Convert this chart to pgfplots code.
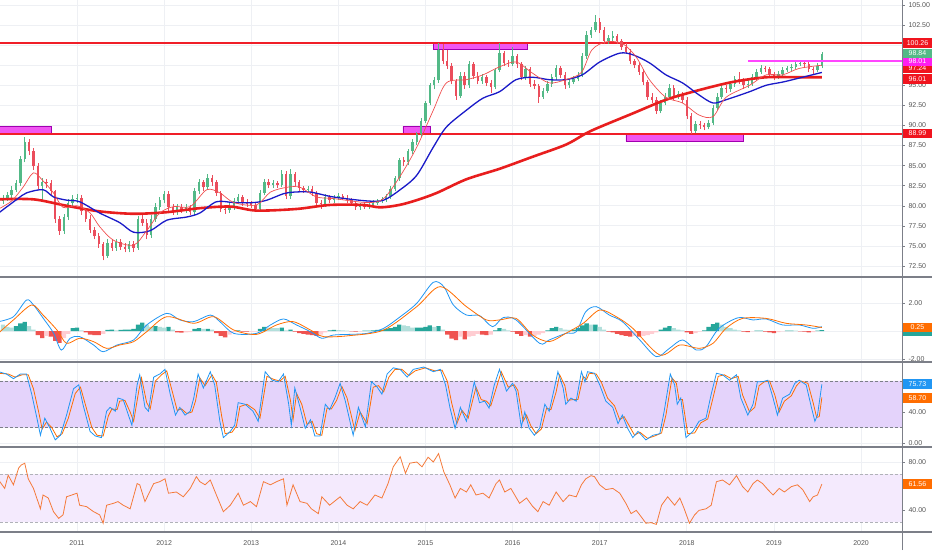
\documentclass[border=0pt]{standalone}
\usepackage{fontspec}
\setmainfont{Liberation Sans}
\usepackage{pgfplots}
\pgfplotsset{compat=1.18}
\usepackage{pgfplotstable}
\definecolor{upc}{HTML}{53B987}
\definecolor{dnc}{HTML}{EB4D5C}
\definecolor{gridc}{HTML}{EEF0F4}
\definecolor{sepc}{HTML}{7C7F88}
\definecolor{labc}{HTML}{555555}
\definecolor{hred}{RGB}{240,30,40}
\definecolor{ma200}{HTML}{E81E1E}
\definecolor{mablue}{HTML}{1A1AC8}
\definecolor{emared}{HTML}{F05050}
\definecolor{magf}{HTML}{F055F2}
\definecolor{magd}{HTML}{A000B0}
\definecolor{magl}{RGB}{255,70,255}
\definecolor{tvblue}{HTML}{2196F3}
\definecolor{tvorange}{HTML}{FF6D00}
\definecolor{rsiorange}{HTML}{F47A3A}
\definecolor{hk0}{HTML}{26A69A}
\definecolor{hk1}{HTML}{B2DFDB}
\definecolor{hk2}{HTML}{EF5350}
\definecolor{hk3}{HTML}{FFCDD2}
\definecolor{stband}{HTML}{E4D3FB}
\definecolor{rsiband}{HTML}{F4EAFD}
\definecolor{boxred}{HTML}{F0141E}
\definecolor{boxgreen}{HTML}{53B987}
\definecolor{boxmag}{HTML}{FF1EF0}

\pgfplotstableread{
t o h l c
2010.15 80.6 81.3 80.2 81.0
2010.20 81.0 81.7 80.6 81.3
2010.25 81.3 82.4 80.9 82.0
2010.30 82.0 83.2 81.7 82.8
2010.35 82.8 86.2 82.5 85.8
2010.40 85.8 88.6 85.4 87.9
2010.45 87.9 88.3 86.3 86.8
2010.50 86.8 87.2 84.5 84.9
2010.55 84.9 85.3 82.1 82.5
2010.60 82.5 83.4 80.6 82.9
2010.65 82.9 83.3 82.2 82.8
2010.70 82.8 83.2 81.4 81.8
2010.75 81.8 82.0 77.9 78.3
2010.80 78.3 78.7 76.4 76.9
2010.85 76.9 79.0 76.5 78.6
2010.90 78.6 80.8 78.2 80.4
2010.95 80.4 81.3 80.0 80.8
2011.00 80.8 81.5 80.3 81.0
2011.05 81.0 81.3 78.9 79.3
2011.10 79.3 79.7 78.0 78.4
2011.15 78.4 78.8 76.6 77.0
2011.20 77.0 77.4 75.8 76.2
2011.25 76.2 76.6 74.8 75.2
2011.30 75.2 75.5 73.2 73.8
2011.35 73.8 75.8 73.5 75.4
2011.40 75.4 75.9 74.4 74.8
2011.45 74.8 75.9 74.4 75.5
2011.50 75.5 75.9 74.5 74.9
2011.55 74.9 75.4 74.2 74.6
2011.60 74.6 75.6 74.2 75.2
2011.65 75.2 75.6 74.3 74.8
2011.70 74.8 78.7 74.5 78.3
2011.75 78.3 78.8 77.5 77.9
2011.80 77.9 78.3 75.8 76.3
2011.85 76.3 78.8 76.0 78.4
2011.90 78.4 80.3 78.0 79.9
2011.95 79.9 81.1 79.5 80.7
2012.00 80.7 81.9 80.3 81.5
2012.05 81.5 81.8 79.4 79.8
2012.10 79.8 80.2 78.9 79.3
2012.15 79.3 80.2 78.9 79.8
2012.20 79.8 80.2 79.1 79.5
2012.25 79.5 80.2 79.1 79.8
2012.30 79.8 80.1 78.8 79.2
2012.35 79.2 82.2 78.9 81.8
2012.40 81.8 83.3 81.5 82.9
2012.45 82.9 83.2 81.9 82.3
2012.50 82.3 84.0 82.0 83.4
2012.55 83.4 83.8 82.5 82.9
2012.60 82.9 83.2 81.2 81.6
2012.65 81.6 81.9 79.2 79.6
2012.70 79.6 80.0 79.0 79.5
2012.75 79.5 80.3 79.1 79.9
2012.80 79.9 81.0 79.5 80.6
2012.85 80.6 81.5 80.2 81.1
2012.90 81.1 81.4 80.0 80.4
2012.95 80.4 80.8 79.9 80.3
2013.00 80.3 80.6 79.7 80.1
2013.05 80.1 80.4 79.2 79.6
2013.10 79.6 82.0 79.3 81.6
2013.15 81.6 83.3 81.3 82.9
2013.20 82.9 83.3 82.2 82.6
2013.25 82.6 83.2 82.2 82.8
2013.30 82.8 83.1 82.2 82.6
2013.35 82.6 84.4 82.3 84.0
2013.40 84.0 84.3 80.8 81.2
2013.45 81.2 84.6 80.9 83.9
2013.50 83.9 84.2 82.5 82.9
2013.55 82.9 83.2 81.8 82.2
2013.60 82.2 82.5 81.6 82.0
2013.65 82.0 82.5 81.7 82.1
2013.70 82.1 82.4 81.2 81.6
2013.75 81.6 81.9 80.0 80.4
2013.80 80.4 80.7 79.6 80.2
2013.85 80.2 81.5 79.9 81.1
2013.90 81.1 81.4 80.4 80.7
2013.95 80.7 81.4 80.4 81.0
2014.00 81.0 81.6 80.7 81.2
2014.05 81.2 81.5 80.7 81.0
2014.10 81.0 81.3 80.3 80.7
2014.15 80.7 81.0 80.0 80.3
2014.20 80.3 80.6 79.5 79.8
2014.25 79.8 80.4 79.5 80.1
2014.30 80.1 80.4 79.6 79.9
2014.35 79.9 80.3 79.6 80.0
2014.40 80.0 80.7 79.7 80.4
2014.45 80.4 80.9 80.1 80.6
2014.50 80.6 81.1 80.3 80.8
2014.55 80.8 81.5 80.5 81.2
2014.60 81.2 82.4 80.9 82.1
2014.65 82.1 83.7 81.8 83.4
2014.70 83.4 86.0 83.1 85.7
2014.75 85.7 86.1 84.9 85.4
2014.80 85.4 87.1 85.1 86.8
2014.85 86.8 88.3 86.5 88.0
2014.90 88.0 89.2 87.6 88.9
2014.95 88.9 90.9 88.6 90.6
2015.00 90.6 93.1 90.3 92.8
2015.05 92.8 95.3 92.5 95.0
2015.10 95.0 96.0 94.5 95.6
2015.15 95.6 100.3 95.3 99.4
2015.20 99.4 100.2 97.6 98.0
2015.25 98.0 99.4 97.0 97.4
2015.30 97.4 97.8 95.1 95.5
2015.35 95.5 95.8 93.2 93.7
2015.40 93.7 96.6 93.4 96.2
2015.45 96.2 96.6 94.6 95.0
2015.50 95.0 98.0 94.7 97.6
2015.55 97.6 97.9 95.8 96.2
2015.60 96.2 96.6 95.1 95.5
2015.65 95.5 96.4 95.2 96.0
2015.70 96.0 96.3 94.9 95.3
2015.75 95.3 95.6 94.0 94.8
2015.80 94.8 97.2 94.5 96.9
2015.85 96.9 100.3 96.6 99.0
2015.90 99.0 99.3 97.4 97.8
2015.95 97.8 98.2 97.3 97.7
2016.00 97.7 99.8 97.4 98.6
2016.05 98.6 98.9 97.2 97.6
2016.10 97.6 97.9 95.6 96.0
2016.15 96.0 97.4 95.7 97.0
2016.20 97.0 97.3 94.8 95.2
2016.25 95.2 95.6 94.5 94.9
2016.30 94.9 95.2 92.8 93.6
2016.35 93.6 94.7 93.3 94.3
2016.40 94.3 95.5 94.0 95.1
2016.45 95.1 96.4 94.8 96.0
2016.50 96.0 97.5 95.7 97.1
2016.55 97.1 97.4 95.9 96.3
2016.60 96.3 96.6 94.6 95.0
2016.65 95.0 95.8 94.7 95.4
2016.70 95.4 96.2 95.1 95.8
2016.75 95.8 96.7 95.5 96.3
2016.80 96.3 99.0 96.0 98.6
2016.85 98.6 101.7 98.3 101.3
2016.90 101.3 102.3 100.9 101.9
2016.95 101.9 103.7 101.6 102.9
2017.00 102.9 103.4 101.5 101.9
2017.05 101.9 102.2 100.1 100.5
2017.10 100.5 101.3 100.1 100.9
2017.15 100.9 101.8 100.5 101.1
2017.20 101.1 101.4 100.1 100.5
2017.25 100.5 100.8 99.4 99.8
2017.30 99.8 100.3 98.9 99.2
2017.35 99.2 99.5 97.6 98.0
2017.40 98.0 98.3 97.1 97.5
2017.45 97.5 97.8 96.3 96.7
2017.50 96.7 97.0 95.0 95.4
2017.55 95.4 95.7 93.2 93.6
2017.60 93.6 94.0 92.8 93.2
2017.65 93.2 93.5 91.4 91.8
2017.70 91.8 93.2 91.5 92.8
2017.75 92.8 94.0 92.5 93.6
2017.80 93.6 95.1 93.3 94.7
2017.85 94.7 95.0 93.2 93.6
2017.90 93.6 94.3 93.3 93.9
2017.95 93.9 94.2 92.8 93.2
2018.00 93.2 93.5 90.8 91.2
2018.05 91.2 91.5 88.9 89.3
2018.10 89.3 90.6 89.0 90.2
2018.15 90.2 90.5 89.6 90.0
2018.20 90.0 90.3 89.4 89.8
2018.25 89.8 90.7 89.5 90.3
2018.30 90.3 92.6 90.0 92.2
2018.35 92.2 94.0 91.9 93.6
2018.40 93.6 95.1 93.3 94.7
2018.45 94.7 95.0 94.1 94.5
2018.50 94.5 95.5 94.2 95.1
2018.55 95.1 96.2 94.8 95.8
2018.60 95.8 96.6 95.2 95.6
2018.65 95.6 95.9 94.6 95.0
2018.70 95.0 95.6 94.7 95.2
2018.75 95.2 96.4 94.9 96.0
2018.80 96.0 97.0 95.7 96.7
2018.85 96.7 97.5 96.4 97.1
2018.90 97.1 97.4 96.6 97.0
2018.95 97.0 97.3 96.0 96.4
2019.00 96.4 96.7 95.7 96.1
2019.05 96.1 96.8 95.8 96.4
2019.10 96.4 97.3 96.1 96.9
2019.15 96.9 97.4 96.6 97.1
2019.20 97.1 97.6 96.8 97.3
2019.25 97.3 98.1 97.0 97.7
2019.30 97.7 98.1 97.4 97.8
2019.35 97.8 98.1 97.2 97.6
2019.40 97.6 97.9 96.6 97.0
2019.45 97.0 97.3 96.4 96.9
2019.50 96.9 97.8 96.6 97.4
2019.55 97.4 99.2 97.1 98.84
}\candles

\pgfplotstableread{
t v k
2010.15 0.45 1
2010.20 0.30 1
2010.25 0.25 1
2010.30 0.35 0
2010.35 0.55 0
2010.40 0.65 0
2010.45 0.35 1
2010.50 0.10 1
2010.55 -0.30 2
2010.60 -0.50 2
2010.65 -0.35 3
2010.70 -0.40 2
2010.75 -0.70 2
2010.80 -0.85 2
2010.85 -0.50 3
2010.90 -0.20 3
2010.95 0.20 0
2011.00 0.25 0
2011.05 0.05 1
2011.10 -0.10 2
2011.15 -0.25 2
2011.20 -0.30 2
2011.25 -0.30 2
2011.30 -0.20 3
2011.35 0.08 0
2011.40 0.10 0
2011.45 0.05 1
2011.50 0.08 0
2011.55 0.10 0
2011.60 0.10 0
2011.65 0.15 0
2011.70 0.45 0
2011.75 0.60 0
2011.80 0.45 1
2011.85 0.30 1
2011.90 0.35 0
2011.95 0.30 1
2012.00 0.25 1
2012.05 0.30 0
2012.10 0.10 1
2012.15 -0.10 2
2012.20 -0.12 2
2012.25 -0.10 3
2012.30 -0.08 3
2012.35 0.15 0
2012.40 0.20 0
2012.45 0.15 1
2012.50 0.15 0
2012.55 0.10 1
2012.60 -0.15 2
2012.65 -0.35 2
2012.70 -0.45 2
2012.75 -0.25 3
2012.80 -0.08 3
2012.85 0.05 0
2012.90 -0.05 2
2012.95 -0.05 2
2013.00 -0.05 3
2013.05 -0.05 3
2013.10 0.15 0
2013.15 0.30 0
2013.20 0.25 1
2013.25 0.20 1
2013.30 0.20 1
2013.35 0.25 0
2013.40 0.05 1
2013.45 0.10 0
2013.50 -0.05 2
2013.55 -0.15 2
2013.60 -0.20 2
2013.65 -0.25 2
2013.70 -0.30 2
2013.75 -0.35 2
2013.80 -0.25 3
2013.85 -0.10 3
2013.90 0.05 0
2013.95 0.08 0
2014.00 0.06 1
2014.05 0.05 1
2014.10 0.03 1
2014.15 -0.03 2
2014.20 -0.05 2
2014.25 -0.04 3
2014.30 0.02 0
2014.35 0.03 0
2014.40 0.05 0
2014.45 0.08 0
2014.50 0.10 0
2014.55 0.15 0
2014.60 0.20 0
2014.65 0.30 0
2014.70 0.45 0
2014.75 0.40 1
2014.80 0.35 1
2014.85 0.25 1
2014.90 0.25 0
2014.95 0.25 0
2015.00 0.30 0
2015.05 0.40 0
2015.10 0.30 1
2015.15 0.35 0
2015.20 0.10 1
2015.25 -0.25 2
2015.30 -0.55 2
2015.35 -0.65 2
2015.40 -0.40 3
2015.45 -0.60 2
2015.50 -0.40 3
2015.55 -0.35 3
2015.60 -0.20 3
2015.65 -0.25 2
2015.70 -0.30 2
2015.75 -0.25 3
2015.80 0.05 0
2015.85 0.20 0
2015.90 0.15 1
2015.95 0.05 1
2016.00 -0.05 2
2016.05 -0.20 2
2016.10 -0.35 2
2016.15 -0.30 3
2016.20 -0.40 2
2016.25 -0.35 3
2016.30 -0.25 3
2016.35 -0.15 3
2016.40 0.05 0
2016.45 0.20 0
2016.50 0.30 0
2016.55 0.20 1
2016.60 0.10 1
2016.65 0.08 1
2016.70 0.10 0
2016.75 0.20 0
2016.80 0.40 0
2016.85 0.55 0
2016.90 0.45 1
2016.95 0.45 0
2017.00 0.30 1
2017.05 0.10 1
2017.10 -0.05 2
2017.15 -0.10 2
2017.20 -0.20 2
2017.25 -0.30 2
2017.30 -0.35 2
2017.35 -0.40 2
2017.40 -0.35 3
2017.45 -0.40 2
2017.50 -0.35 3
2017.55 -0.30 3
2017.60 -0.20 3
2017.65 -0.10 3
2017.70 0.10 0
2017.75 0.25 0
2017.80 0.35 0
2017.85 0.20 1
2017.90 0.10 1
2017.95 0.05 1
2018.00 -0.10 2
2018.05 -0.20 2
2018.10 -0.15 3
2018.15 -0.05 3
2018.20 0.05 0
2018.25 0.30 0
2018.30 0.50 0
2018.35 0.60 0
2018.40 0.45 1
2018.45 0.30 1
2018.50 0.20 1
2018.55 0.10 1
2018.60 0.05 1
2018.65 -0.05 2
2018.70 -0.08 2
2018.75 -0.03 3
2018.80 0.02 0
2018.85 0.03 0
2018.90 -0.05 2
2018.95 -0.10 2
2019.00 -0.15 2
2019.05 -0.08 3
2019.10 -0.03 3
2019.15 0.02 0
2019.20 0.03 0
2019.25 0.02 1
2019.30 -0.02 2
2019.35 -0.05 2
2019.40 -0.10 2
2019.45 -0.08 3
2019.50 0.03 0
2019.55 0.06 0
}\hist

\pgfplotsset{
  tvpanel/.style={
    scale only axis, width=902pt, height=85pt,
    xmin=2010.116, xmax=2020.47,
    axis y line*=right, axis x line*=bottom,
    axis line style={draw=none},
    xtick={2011,2012,2013,2014,2015,2016,2017,2018,2019,2020},
    xticklabels={},
    xmajorgrids, ymajorgrids,
    major grid style={draw=gridc, line width=0.7pt},
    major tick length=3pt,
    ytick style={draw=sepc, line width=0.5pt},
    xtick style={draw=none},
    tick align=outside,
    yticklabel style={font=\fontsize{7}{8}\selectfont, text=labc,
      /pgf/number format/.cd, fixed, fixed zerofill, precision=2, assume math mode=true},
    clip mode=individual,
  },
  upwick/.style={draw=none, forget plot,
    restrict expr to domain={\thisrow{c}-\thisrow{o}}{0:100},
    error bars/.cd, y dir=plus, y explicit, error mark=none,
    error bar style={draw=upc, line width=0.6pt}},
  upbody/.style={draw=none, forget plot,
    restrict expr to domain={\thisrow{c}-\thisrow{o}}{0:100},
    error bars/.cd, y dir=plus, y explicit, error mark=none,
    error bar style={draw=upc, line width=2.4pt}},
  dnwick/.style={draw=none, forget plot,
    restrict expr to domain={\thisrow{o}-\thisrow{c}}{0.001:100},
    error bars/.cd, y dir=plus, y explicit, error mark=none,
    error bar style={draw=dnc, line width=0.6pt}},
  dnbody/.style={draw=none, forget plot,
    restrict expr to domain={\thisrow{o}-\thisrow{c}}{0.001:100},
    error bars/.cd, y dir=plus, y explicit, error mark=none,
    error bar style={draw=dnc, line width=2.4pt}},
  hbar/.style={ybar, bar width=4.3pt, bar shift=0pt, draw=none, fill=#1, forget plot},
}
\tikzset{
  lbl/.style={anchor=west, xshift=1pt, minimum width=28.5pt, minimum height=9.8pt,
    inner sep=0pt, text=white, font=\fontsize{7}{8}\selectfont},
}

\begin{document}
\begin{tikzpicture}
\path[use as bounding box] (0pt,0pt) rectangle (932pt,550pt);

% ---------------- main price panel ----------------
\begin{axis}[tvpanel, at={(0pt,273pt)}, anchor=south west, height=277pt,
  ymin=71.13, ymax=105.62, ytick={72.5,75,...,105}]
\addplot[fill=magf, draw=magd, line width=0.6pt, forget plot] coordinates {(2010.10,88.92) (2010.71,88.92) (2010.71,89.85) (2010.10,89.85) (2010.10,88.92)};
\addplot[fill=magf, draw=magd, line width=0.6pt, forget plot] coordinates {(2014.74,89.0) (2015.05,89.0) (2015.05,89.9) (2014.74,89.9) (2014.74,89.0)};
\addplot[fill=magf, draw=magd, line width=0.6pt, forget plot] coordinates {(2015.09,99.45) (2016.17,99.45) (2016.17,100.3) (2015.09,100.3) (2015.09,99.45)};
\addplot[fill=magf, draw=magd, line width=0.6pt, forget plot] coordinates {(2017.30,88.05) (2018.65,88.05) (2018.65,88.99) (2017.30,88.99) (2017.30,88.05)};
% horizontal levels
\addplot[color=hred, line width=2.2pt, forget plot] coordinates {(2010.116,100.26) (2020.47,100.26)};
\addplot[color=hred, line width=2.2pt, forget plot] coordinates {(2010.116,88.96) (2020.47,88.96)};
\addplot[upwick] table[x=t, y=l, y error plus expr=\thisrow{h}-\thisrow{l}] {\candles};
\addplot[dnwick] table[x=t, y=l, y error plus expr=\thisrow{h}-\thisrow{l}] {\candles};
\addplot[upbody] table[x=t, y=o, y error plus expr=\thisrow{c}-\thisrow{o}] {\candles};
\addplot[dnbody] table[x=t, y=c, y error plus expr=\thisrow{o}-\thisrow{c}] {\candles};
% 200 MA
\addplot[draw=ma200, line width=2.6pt, smooth] coordinates {
(2010.10,80.8) (2010.50,80.8) (2010.88,80.0) (2011.26,79.3) (2011.65,79.0) (2012.03,79.2)
(2012.41,79.7) (2012.76,79.9) (2013.06,79.4) (2013.52,79.6) (2013.90,80.1) (2014.28,80.1)
(2014.48,79.8) (2014.70,80.1) (2014.90,80.7) (2015.13,81.6) (2015.47,83.3) (2015.85,84.6)
(2016.23,86.1) (2016.61,87.6) (2016.84,89.0) (2017.00,89.8) (2017.38,91.5) (2017.76,93.2)
(2018.14,94.4) (2018.52,95.4) (2018.91,96.0) (2019.29,96.0) (2019.55,96.0)};
% 50 EMA
\addplot[draw=mablue, line width=1.3pt, smooth] coordinates {
(2010.10,79.1) (2010.31,80.8) (2010.42,81.6) (2010.61,82.0) (2010.73,81.1) (2010.88,80.7)
(2011.03,80.5) (2011.26,79.1) (2011.49,77.9) (2011.65,76.7) (2011.84,76.9) (2012.03,78.2)
(2012.26,78.6) (2012.41,79.1) (2012.60,80.5) (2012.80,80.4) (2013.03,80.4) (2013.18,80.7)
(2013.37,81.5) (2013.49,81.7) (2013.68,81.7) (2013.94,81.1) (2014.33,80.6) (2014.52,80.7)
(2014.71,82.0) (2014.90,83.8) (2015.09,87.3) (2015.24,89.8) (2015.47,91.9) (2015.66,93.4)
(2015.85,94.2) (2016.04,95.7) (2016.23,96.0) (2016.42,95.7) (2016.61,95.7) (2016.80,96.3)
(2017.00,97.9) (2017.23,99.0) (2017.38,98.8) (2017.57,97.8) (2017.76,96.3) (2017.95,95.3)
(2018.14,93.8) (2018.30,92.8) (2018.45,93.2) (2018.72,94.2) (2018.91,95.0) (2019.10,95.4)
(2019.29,95.9) (2019.55,96.6)};
% 20 EMA
\addplot[draw=emared, line width=0.7pt, smooth] coordinates {
(2010.10,79.6) (2010.25,80.6) (2010.38,82.3) (2010.50,84.1) (2010.61,83.1) (2010.73,81.6)
(2010.84,79.8) (2011.00,80.0) (2011.15,79.1) (2011.26,77.4) (2011.42,75.7) (2011.65,75.1)
(2011.80,76.9) (2011.95,79.1) (2012.11,79.9) (2012.30,79.9) (2012.49,82.0) (2012.64,81.6)
(2012.80,80.4) (2013.06,80.1) (2013.22,81.7) (2013.41,82.3) (2013.56,82.3) (2013.75,81.1)
(2013.94,80.9) (2014.33,80.4) (2014.52,80.9) (2014.71,83.7) (2014.90,87.3) (2015.09,91.9)
(2015.24,95.3) (2015.47,95.7) (2015.66,96.3) (2015.85,97.3) (2016.04,97.9) (2016.23,96.5)
(2016.42,95.3) (2016.61,95.7) (2016.79,96.6) (2016.91,99.4) (2017.07,100.4) (2017.26,100.2)
(2017.42,98.5) (2017.57,95.7) (2017.76,93.5) (2017.95,92.8) (2018.14,91.3) (2018.30,91.1)
(2018.45,93.5) (2018.72,95.0) (2018.91,96.3) (2019.10,96.3) (2019.29,97.1) (2019.55,97.5)};
\addplot[color=magl, line width=1.6pt, forget plot] coordinates {(2018.70,98.01) (2020.47,98.01)};
\coordinate (b1) at (axis cs:2020.47,100.26);
\coordinate (b2) at (axis cs:2020.47,98.96);
\coordinate (b3) at (axis cs:2020.47,97.98);
\coordinate (b4) at (axis cs:2020.47,97.15);
\coordinate (b5) at (axis cs:2020.47,95.8);
\coordinate (b6) at (axis cs:2020.47,88.99);
\end{axis}

% ---------------- MACD panel ----------------
\begin{axis}[tvpanel, at={(0pt,188pt)}, anchor=south west,
  ymin=-2.214, ymax=3.857, ytick={-2,0,2}]
\addplot[hbar=hk0, restrict expr to domain={\thisrow{k}}{-0.5:0.5}] table[x=t,y=v] {\hist};
\addplot[hbar=hk1, restrict expr to domain={\thisrow{k}}{0.5:1.5}] table[x=t,y=v] {\hist};
\addplot[hbar=hk2, restrict expr to domain={\thisrow{k}}{1.5:2.5}] table[x=t,y=v] {\hist};
\addplot[hbar=hk3, restrict expr to domain={\thisrow{k}}{2.5:3.5}] table[x=t,y=v] {\hist};
\addplot[draw=tvblue, line width=0.8pt, smooth] coordinates {
(2010.10,0.67) (2010.27,1.02) (2010.42,2.21) (2010.50,1.86) (2010.61,0.93) (2010.73,-0.14)
(2010.82,-1.36) (2010.92,-0.52) (2011.03,-0.40) (2011.19,-1.00) (2011.30,-1.48) (2011.46,-1.00)
(2011.65,-0.64) (2011.80,0.43) (2012.03,1.26) (2012.18,0.79) (2012.34,0.67) (2012.53,1.14)
(2012.64,0.67) (2012.80,-0.17) (2013.06,-0.17) (2013.22,0.43) (2013.37,0.86) (2013.52,0.43)
(2013.68,-0.05) (2013.81,-0.52) (2013.94,-0.29) (2014.13,-0.24) (2014.33,-0.17) (2014.52,0.19)
(2014.71,1.02) (2014.90,1.98) (2015.09,3.48) (2015.21,3.17) (2015.32,1.86) (2015.47,1.14)
(2015.62,1.10) (2015.77,0.31) (2015.89,0.95) (2016.04,0.79) (2016.31,-0.88) (2016.42,-0.64)
(2016.61,-0.17) (2016.73,-0.05) (2016.84,1.38) (2016.96,1.74) (2017.11,1.14) (2017.26,0.67)
(2017.46,-0.64) (2017.65,-1.83) (2017.80,-1.24) (2017.95,-0.64) (2018.11,-1.36) (2018.22,-1.12)
(2018.37,0.19) (2018.59,0.95) (2018.76,0.79) (2018.91,0.86) (2019.10,0.43) (2019.29,0.43)
(2019.45,0.19) (2019.55,0.31)};
\addplot[draw=tvorange, line width=0.8pt, smooth] coordinates {
(2010.10,-0.14) (2010.27,0.79) (2010.48,1.86) (2010.61,1.14) (2010.77,0.07) (2010.88,-0.88)
(2011.03,-0.52) (2011.19,-0.76) (2011.34,-1.24) (2011.49,-1.00) (2011.65,-0.76) (2011.80,-0.05)
(2012.03,1.02) (2012.34,0.55) (2012.57,1.02) (2012.80,0.07) (2013.06,-0.24) (2013.29,0.43)
(2013.48,0.67) (2013.68,0.07) (2013.83,-0.40) (2014.13,-0.33) (2014.52,0.07) (2014.90,1.74)
(2015.17,3.17) (2015.47,1.74) (2015.70,0.79) (2015.85,0.79) (2016.04,0.90) (2016.23,-0.29)
(2016.42,-0.76) (2016.61,-0.17) (2016.81,0.55) (2017.00,1.50) (2017.19,1.02) (2017.38,0.19)
(2017.69,-1.71) (2017.92,-1.00) (2018.14,-1.24) (2018.30,-0.88) (2018.45,0.19) (2018.64,0.90)
(2018.91,0.90) (2019.14,0.55) (2019.37,0.43) (2019.55,0.25)};
\coordinate (m1) at (axis cs:2020.47,0.25);
\coordinate (m2) at (axis cs:2020.47,-0.12);
\end{axis}

% ---------------- Stoch RSI panel ----------------
\begin{axis}[tvpanel, at={(0pt,103pt)}, anchor=south west,
  ymin=-5.16, ymax=104.5, ytick={0,40,80}, yticklabels={0.00,40.00,}]
\addplot[fill=stband, draw=none, forget plot] coordinates {(2010.116,20) (2020.47,20) (2020.47,80) (2010.116,80) (2010.116,20)};
\addplot[draw=sepc, line width=0.7pt, dash pattern=on 3pt off 2pt, forget plot] coordinates {(2010.116,80) (2020.47,80)};
\addplot[draw=sepc, line width=0.7pt, dash pattern=on 3pt off 2pt, forget plot] coordinates {(2010.116,20) (2020.47,20)};
\addplot[draw=tvorange, line width=0.8pt] coordinates {
(2010.10,90) (2010.21,89) (2010.29,85) (2010.37,88) (2010.44,88) (2010.50,70) (2010.56,40)
(2010.60,18) (2010.65,27) (2010.71,20) (2010.77,8) (2010.83,12) (2010.90,32) (2010.98,64)
(2011.04,72) (2011.09,52) (2011.17,20) (2011.23,10) (2011.30,9) (2011.36,35) (2011.40,44)
(2011.46,43) (2011.49,54) (2011.55,55) (2011.61,40) (2011.65,28) (2011.71,68) (2011.74,84)
(2011.80,52) (2011.84,44) (2011.90,80) (2011.97,88) (2012.03,93) (2012.09,68) (2012.15,42)
(2012.20,44) (2012.26,38) (2012.32,40) (2012.36,54) (2012.41,84) (2012.47,74) (2012.55,88)
(2012.60,78) (2012.66,35) (2012.70,12) (2012.78,14) (2012.83,22) (2012.87,47) (2012.95,50)
(2013.04,43) (2013.10,32) (2013.18,86) (2013.26,82) (2013.33,80) (2013.39,86) (2013.45,55)
(2013.48,30) (2013.52,64) (2013.58,50) (2013.64,24) (2013.70,28) (2013.75,12) (2013.81,10)
(2013.87,45) (2013.92,44) (2013.98,55) (2014.04,73) (2014.10,58) (2014.19,16) (2014.25,40)
(2014.33,25) (2014.40,72) (2014.46,74) (2014.52,66) (2014.58,85) (2014.65,95) (2014.73,95)
(2014.81,87) (2014.88,93) (2015.00,97) (2015.11,93) (2015.19,94) (2015.25,80) (2015.30,52)
(2015.36,25) (2015.42,42) (2015.49,32) (2015.58,72) (2015.64,56) (2015.70,54) (2015.75,48)
(2015.81,70) (2015.87,92) (2015.95,72) (2016.02,75) (2016.06,68) (2016.12,28) (2016.16,36)
(2016.21,22) (2016.27,12) (2016.33,18) (2016.39,45) (2016.44,43) (2016.50,66) (2016.54,88)
(2016.60,74) (2016.63,55) (2016.69,56) (2016.75,56) (2016.81,86) (2016.85,82) (2016.88,90)
(2016.96,89) (2017.02,78) (2017.09,58) (2017.17,48) (2017.23,30) (2017.28,34) (2017.34,22)
(2017.40,10) (2017.46,14) (2017.55,6) (2017.63,9) (2017.71,13) (2017.76,36) (2017.83,84)
(2017.88,77) (2017.91,56) (2017.95,56) (2018.01,12) (2018.09,13) (2018.16,26) (2018.24,31)
(2018.30,58) (2018.36,86) (2018.43,88) (2018.51,83) (2018.59,86) (2018.64,62) (2018.72,40)
(2018.78,46) (2018.83,74) (2018.89,79) (2018.95,80) (2019.01,62) (2019.06,40) (2019.12,54)
(2019.20,61) (2019.26,74) (2019.31,80) (2019.39,77) (2019.45,52) (2019.49,33) (2019.52,34)
(2019.55,58.70)};
\addplot[draw=tvblue, line width=0.8pt] coordinates {
(2010.10,92) (2010.19,89) (2010.27,83) (2010.35,89) (2010.42,89) (2010.48,63) (2010.54,32)
(2010.58,10) (2010.63,32) (2010.69,19) (2010.75,4) (2010.81,10) (2010.88,36) (2010.96,70)
(2011.02,75) (2011.07,49) (2011.15,15) (2011.21,9) (2011.28,7) (2011.34,41) (2011.38,46)
(2011.44,41) (2011.47,58) (2011.53,56) (2011.59,36) (2011.63,23) (2011.69,75) (2011.72,88)
(2011.78,46) (2011.82,41) (2011.88,85) (2011.95,89) (2012.01,95) (2012.07,63) (2012.13,36)
(2012.18,46) (2012.24,36) (2012.30,41) (2012.34,58) (2012.39,89) (2012.45,71) (2012.53,92)
(2012.58,75) (2012.64,28) (2012.68,7) (2012.76,15) (2012.81,23) (2012.85,52) (2012.93,50)
(2013.02,41) (2013.08,28) (2013.16,92) (2013.24,81) (2013.31,79) (2013.37,89) (2013.43,50)
(2013.46,23) (2013.50,71) (2013.56,46) (2013.62,19) (2013.68,30) (2013.73,9) (2013.79,9)
(2013.85,50) (2013.90,43) (2013.96,58) (2014.02,77) (2014.08,54) (2014.17,10) (2014.23,46)
(2014.31,21) (2014.38,79) (2014.44,73) (2014.50,63) (2014.56,89) (2014.63,97) (2014.71,95)
(2014.79,85) (2014.86,95) (2014.98,98) (2015.09,92) (2015.17,95) (2015.23,75) (2015.28,46)
(2015.34,19) (2015.40,46) (2015.47,28) (2015.56,79) (2015.62,52) (2015.68,54) (2015.73,45)
(2015.79,75) (2015.85,95) (2015.93,67) (2016.00,77) (2016.04,67) (2016.10,21) (2016.14,40)
(2016.19,19) (2016.25,10) (2016.31,19) (2016.37,50) (2016.42,41) (2016.48,71) (2016.52,92)
(2016.58,71) (2016.61,50) (2016.67,58) (2016.73,54) (2016.79,92) (2016.83,79) (2016.86,92)
(2016.94,90) (2017.00,75) (2017.07,54) (2017.15,46) (2017.21,25) (2017.26,36) (2017.32,19)
(2017.38,7) (2017.44,15) (2017.53,4) (2017.61,10) (2017.69,12) (2017.74,41) (2017.81,89)
(2017.86,75) (2017.89,50) (2017.93,58) (2017.99,7) (2018.07,15) (2018.14,28) (2018.22,32)
(2018.28,63) (2018.34,90) (2018.41,88) (2018.49,81) (2018.57,88) (2018.62,58) (2018.70,36)
(2018.76,50) (2018.81,79) (2018.87,79) (2018.93,81) (2018.99,58) (2019.04,36) (2019.10,58)
(2019.18,63) (2019.24,77) (2019.29,81) (2019.37,75) (2019.43,46) (2019.47,28) (2019.50,36)
(2019.55,75.73)};
\coordinate (s1) at (axis cs:2020.47,75.73);
\coordinate (s2) at (axis cs:2020.47,57.8);
\end{axis}

% ---------------- RSI panel ----------------
\begin{axis}[tvpanel, at={(0pt,18pt)}, anchor=south west,
  ymin=21.67, ymax=92.5, ytick={40,60,80},
  xticklabels={2011,2012,2013,2014,2015,2016,2017,2018,2019,2020},
  xticklabel style={font=\fontsize{7}{8}\selectfont, text=labc, yshift=-2.5pt}]
\addplot[fill=rsiband, draw=none, forget plot] coordinates {(2010.116,30) (2020.47,30) (2020.47,70) (2010.116,70) (2010.116,30)};
\addplot[draw=sepc!60, line width=0.7pt, dash pattern=on 3pt off 2pt, forget plot] coordinates {(2010.116,70) (2020.47,70)};
\addplot[draw=sepc!60, line width=0.7pt, dash pattern=on 3pt off 2pt, forget plot] coordinates {(2010.116,30) (2020.47,30)};
\addplot[draw=rsiorange, line width=0.8pt] coordinates {
(2010.10,65) (2010.17,58) (2010.21,69) (2010.27,61) (2010.33,75) (2010.36,77.5) (2010.40,79)
(2010.44,66) (2010.50,58) (2010.58,41) (2010.61,52.5) (2010.67,50) (2010.73,38.6) (2010.79,33)
(2010.84,36) (2010.88,51) (2010.94,52.5) (2011.00,54) (2011.03,44) (2011.11,42.8) (2011.19,38.6)
(2011.26,36) (2011.30,29) (2011.34,44) (2011.42,45.6) (2011.47,47) (2011.53,44) (2011.61,41)
(2011.69,62) (2011.72,61) (2011.78,47) (2011.88,62) (2011.95,63.6) (2012.01,66) (2012.05,54)
(2012.14,55) (2012.22,51) (2012.30,58) (2012.37,67.8) (2012.41,63.6) (2012.47,61) (2012.53,65)
(2012.60,52.5) (2012.68,38.6) (2012.76,44) (2012.85,54) (2012.91,44) (2012.99,47) (2013.06,42.8)
(2013.14,63.6) (2013.22,61) (2013.29,63.6) (2013.37,66) (2013.41,44) (2013.48,61) (2013.56,47)
(2013.64,45.6) (2013.69,41) (2013.77,37) (2013.81,51) (2013.90,44) (2014.02,51) (2014.10,44)
(2014.17,41) (2014.25,47) (2014.33,44) (2014.42,52.5) (2014.50,50) (2014.57,62) (2014.63,76)
(2014.71,84.4) (2014.77,70.6) (2014.82,79) (2014.90,80) (2014.96,76) (2015.03,84) (2015.09,80)
(2015.15,87) (2015.21,71.9) (2015.28,61) (2015.34,50) (2015.40,58) (2015.47,55) (2015.52,61)
(2015.58,52.5) (2015.66,54) (2015.73,50) (2015.81,62) (2015.85,65) (2015.91,55) (2015.98,58)
(2016.08,45.6) (2016.16,50) (2016.23,43) (2016.29,38.6) (2016.35,47) (2016.42,44) (2016.50,55)
(2016.58,47) (2016.65,52.5) (2016.73,51) (2016.79,61) (2016.84,66) (2016.90,68.6) (2016.94,67.8)
(2017.00,61) (2017.07,57) (2017.15,58) (2017.23,54) (2017.30,45.6) (2017.36,37) (2017.42,39.7)
(2017.48,34) (2017.53,29) (2017.59,29.5) (2017.65,28) (2017.71,44) (2017.78,51) (2017.86,44)
(2017.92,50) (2017.97,41) (2018.03,29) (2018.09,36) (2018.14,39.7) (2018.22,41) (2018.28,44)
(2018.34,63.6) (2018.41,65) (2018.49,61) (2018.57,68.6) (2018.64,59.5) (2018.70,55) (2018.76,62)
(2018.81,65) (2018.87,62) (2018.93,57) (2018.99,52.5) (2019.06,58) (2019.12,55) (2019.20,59.5)
(2019.27,61) (2019.33,57) (2019.41,47) (2019.45,51) (2019.50,52.5) (2019.55,61.56)};
\coordinate (r1) at (axis cs:2020.47,61.56);
\end{axis}

% separators and price-scale border
\draw[sepc, line width=1.4pt] (0pt,273pt) -- (932pt,273pt);
\draw[sepc, line width=1.4pt] (0pt,188pt) -- (932pt,188pt);
\draw[sepc, line width=1.4pt] (0pt,103pt) -- (932pt,103pt);
\draw[sepc, line width=1.4pt] (0pt,18pt) -- (932pt,18pt);
\draw[sepc, line width=0.9pt] (902pt,0pt) -- (902pt,550pt);

% value labels on the scale
\node[lbl, fill=boxred] at (b4) {97.24};
\node[lbl, fill=boxred] at (b5) {96.01};
\node[lbl, fill=boxmag] at (b3) {98.01};
\node[lbl, fill=boxgreen] at (b2) {98.84};
\node[lbl, fill=boxred] at (b1) {100.26};
\node[lbl, fill=boxred] at (b6) {88.99};
\node[lbl, fill=hk0, minimum height=6pt] at (m2) {};
\node[lbl, fill=tvorange] at (m1) {0.25};
\node[lbl, fill=tvblue] at (s1) {75.73};
\node[lbl, fill=tvorange] at (s2) {58.70};
\node[lbl, fill=tvorange] at (r1) {61.56};
\end{tikzpicture}
\end{document}
